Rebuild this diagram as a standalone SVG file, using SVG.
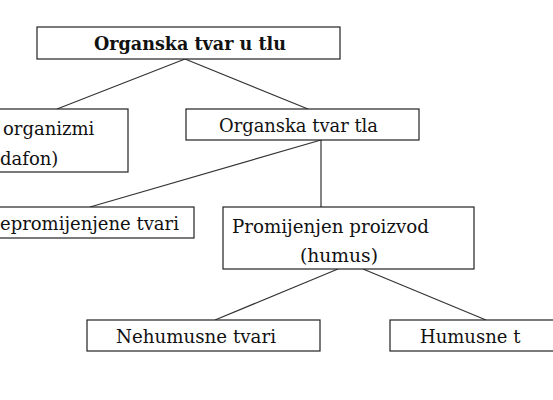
<svg xmlns="http://www.w3.org/2000/svg" width="553" height="400" viewBox="0 0 553 400">
<style>
.box{fill:#fff;stroke:#222;stroke-width:1.2}
.t{font-family:"DejaVu Serif","Liberation Serif",serif;font-size:18px;fill:#111}
.b{font-weight:bold}
.c{stroke:#333;stroke-width:1.2;fill:none}
</style>
<rect width="553" height="400" fill="#fff"/>
<g id="connectors">
<line class="c" x1="185" y1="59" x2="57" y2="109"/>
<line class="c" x1="185" y1="59" x2="308" y2="109"/>
<line class="c" x1="321" y1="140" x2="90" y2="207"/>
<line class="c" x1="321" y1="140" x2="321" y2="207"/>
<line class="c" x1="338" y1="269" x2="215" y2="320"/>
<line class="c" x1="363" y1="269" x2="486" y2="320"/>
</g>
<g id="root">
<rect class="box" x="37" y="27" width="303" height="32"/>
<text class="t b" x="190" y="50" text-anchor="middle" textLength="192" lengthAdjust="spacingAndGlyphs">Organska tvar u tlu</text>
</g>
<g id="organizmi">
<rect class="box" x="-5" y="109" width="133" height="63"/>
<text class="t" x="3" y="135">organizmi</text>
<text class="t" x="0" y="165">dafon)</text>
</g>
<g id="organska-tvar-tla">
<rect class="box" x="186" y="109" width="233" height="31"/>
<text class="t" x="219" y="132" textLength="159" lengthAdjust="spacingAndGlyphs">Organska tvar tla</text>
</g>
<g id="nepromijenjene">
<rect class="box" x="-5" y="207" width="199" height="31"/>
<text class="t" x="0" y="230">epromijenjene tvari</text>
</g>
<g id="humus">
<rect class="box" x="223" y="207" width="251" height="62"/>
<text class="t" x="232" y="233" textLength="197" lengthAdjust="spacingAndGlyphs">Promijenjen proizvod</text>
<text class="t" x="300" y="262" textLength="78" lengthAdjust="spacingAndGlyphs">(humus)</text>
</g>
<g id="nehumusne">
<rect class="box" x="87" y="320" width="233" height="31"/>
<text class="t" x="116" y="343" textLength="160" lengthAdjust="spacingAndGlyphs">Nehumusne tvari</text>
</g>
<g id="humusne">
<rect class="box" x="390" y="320" width="170" height="31"/>
<text class="t" x="420" y="343">Humusne t</text>
</g>
</svg>
